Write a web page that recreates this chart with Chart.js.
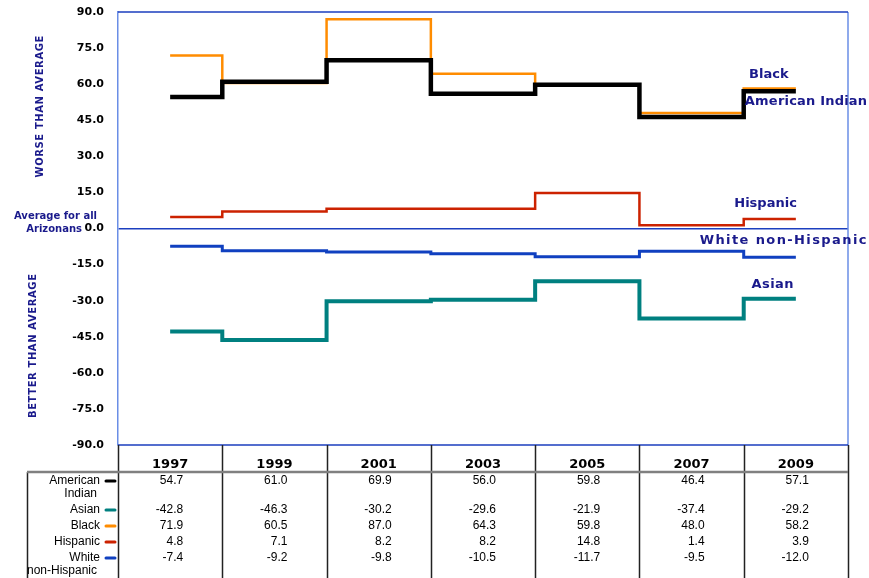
<!DOCTYPE html>
<html>
<head>
<meta charset="utf-8">
<script src="https://cdn.jsdelivr.net/npm/chart.js@4.4.1/dist/chart.umd.min.js"></script>
<style>
  body { margin: 0; background: #fff; }
  canvas { display: block; }
</style>
</head>
<body>
<canvas id="stepChart" width="869" height="578"></canvas>
<script>
// Data
var years = ['1997', '1999', '2001', '2003', '2005', '2007', '2009'];
var americanIndian = [54.7, 61.0, 69.9, 56.0, 59.8, 46.4, 57.1];
var asian = [-42.8, -46.3, -30.2, -29.6, -21.9, -37.4, -29.2];
var black = [71.9, 60.5, 87.0, 64.3, 59.8, 48.0, 58.2];
var hispanic = [4.8, 7.1, 8.2, 8.2, 14.8, 1.4, 3.9];
var whiteNonHispanic = [-7.4, -9.2, -9.8, -10.5, -11.7, -9.5, -12.0];
var yTicks = [90, 75, 60, 45, 30, 15, 0, -15, -30, -45, -60, -75, -90];

var navy = '#1a1a8c';

// one entry per row of the table (same order as the picture)
var rows = [
    { name: ['American', 'Indian'], values: americanIndian, color: '#000000', width: 4.5 },
    { name: ['Asian'], values: asian, color: '#008080', width: 4 },
    { name: ['Black'], values: black, color: '#ff8c00', width: 2.5 },
    { name: ['Hispanic'], values: hispanic, color: '#cc2200', width: 2.5 },
    { name: ['White', 'non-Hispanic'], values: whiteNonHispanic, color: '#1040c0', width: 3 }
];

// labels on the right end of each line
var endLabels = [
    { text: 'Black', values: black, dx: -27, dy: -14, align: 'center', sp: 0 },
    { text: 'American Indian', values: americanIndian, dx: -51, dy: 10, align: 'left', sp: 0.2 },
    { text: 'Hispanic', values: hispanic, dx: 1, dy: -15, align: 'right', sp: 0 },
    { text: 'White non-Hispanic', values: whiteNonHispanic, dx: 72, dy: -17, align: 'right', sp: 1.4 },
    { text: 'Asian', values: asian, dx: -2, dy: -14, align: 'right', sp: 0.4 }
];

var datasets = rows.map(function(r) {
    return {
        label: r.name.join(' '),
        data: r.values,
        borderColor: r.color,
        borderWidth: r.width,
        stepped: 'middle',
        pointRadius: 0,
        fill: false
    };
});

var extras = {
    id: 'extras',
    afterDatasetsDraw: function(chart) {
        var ctx = chart.ctx;
        var area = chart.chartArea;
        var x = chart.scales.x, y = chart.scales.y;

        // frame of the plot
        ctx.save();
        ctx.strokeStyle = '#6a8ee6';
        ctx.lineWidth = 1.5;
        ctx.beginPath();
        ctx.moveTo(area.right, area.top);
        ctx.lineTo(area.right, area.bottom);
        ctx.stroke();
        ctx.strokeStyle = '#1c3fbf';
        ctx.lineWidth = 1.5;
        ctx.beginPath();
        ctx.moveTo(area.left, area.top);
        ctx.lineTo(area.right, area.top);
        ctx.moveTo(area.left, area.bottom);
        ctx.lineTo(area.right, area.bottom);
        ctx.stroke();

        // labels at the end of the lines
        ctx.font = 'bold 13px "DejaVu Sans"';
        ctx.fillStyle = navy;
        ctx.textBaseline = 'middle';
        var lastX = x.getPixelForValue(years.length - 1);
        endLabels.forEach(function(l) {
            ctx.textAlign = l.align;
            ctx.letterSpacing = l.sp + 'px';
            ctx.fillText(l.text, lastX + l.dx, y.getPixelForValue(l.values[l.values.length - 1]) + l.dy);
        });

        // side titles
        ctx.font = 'bold 10px "DejaVu Sans"';
        ctx.letterSpacing = '0.6px';
        ctx.textAlign = 'center';
        ctx.save();
        ctx.translate(40, (y.getPixelForValue(90) + y.getPixelForValue(0)) / 2 - 14);
        ctx.rotate(-Math.PI / 2);
        ctx.fillText('WORSE THAN AVERAGE', 0, 0);
        ctx.restore();
        ctx.save();
        ctx.translate(33, (y.getPixelForValue(0) + y.getPixelForValue(-90)) / 2 + 9);
        ctx.rotate(-Math.PI / 2);
        ctx.fillText('BETTER THAN AVERAGE', 0, 0);
        ctx.restore();
        ctx.letterSpacing = '0px';
        ctx.textAlign = 'right';
        var zeroY = y.getPixelForValue(0);
        ctx.fillText('Average for all', 97, zeroY - 12);
        ctx.fillText('Arizonans', 82, zeroY + 1);
        ctx.restore();
    },
    afterDraw: function(chart) {
        var ctx = chart.ctx;
        var area = chart.chartArea;
        var x = chart.scales.x;
        var bottom = chart.height;
        var headerLine = area.bottom + 27;
        var step = x.getPixelForValue(1) - x.getPixelForValue(0);

        ctx.save();
        // column lines
        ctx.strokeStyle = '#222';
        ctx.lineWidth = 1.5;
        ctx.beginPath();
        for (var i = 0; i <= years.length; i++) {
            var bx = Math.round(x.getPixelForValue(i) - step / 2) + 0.5;
            ctx.moveTo(bx, area.bottom);
            ctx.lineTo(bx, bottom);
        }
        ctx.moveTo(27.5, headerLine);
        ctx.lineTo(27.5, bottom);
        ctx.stroke();
        ctx.strokeStyle = '#808080';
        ctx.lineWidth = 2.5;
        ctx.beginPath();
        ctx.moveTo(27, headerLine);
        ctx.lineTo(area.right, headerLine);
        ctx.stroke();

        // header with the years
        ctx.fillStyle = '#000';
        ctx.font = 'bold 13px "DejaVu Sans"';
        ctx.textAlign = 'center';
        ctx.textBaseline = 'middle';
        years.forEach(function(yr, i) {
            ctx.fillText(yr, x.getPixelForValue(i), area.bottom + 20);
        });

        // rows
        ctx.font = '12px "Liberation Sans"';
        var rowY = headerLine + 9;
        rows.forEach(function(r) {
            ctx.textAlign = 'right';
            ctx.fillStyle = '#000';
            ctx.fillText(r.name[0], 100, rowY);
            if (r.name[1]) ctx.fillText(r.name[1], 97, rowY + 13);
            r.values.forEach(function(v, i) {
                ctx.fillText(v.toFixed(1), x.getPixelForValue(i) + 13, rowY);
            });
            ctx.strokeStyle = r.color;
            ctx.lineWidth = 3;
            ctx.lineCap = 'round';
            ctx.beginPath();
            ctx.moveTo(106, rowY);
            ctx.lineTo(115, rowY);
            ctx.stroke();
            rowY += r.name[1] ? 29 : 16;
        });
        ctx.restore();
    }
};

var ctx = document.getElementById('stepChart').getContext('2d');
var stepChart = new Chart(ctx, {
    type: 'line',
    data: { labels: years, datasets: datasets },
    options: {
        responsive: false,
        animation: false,
        layout: { padding: { top: 12, right: 21, bottom: 133, left: 0 } },
        plugins: { legend: { display: false }, tooltip: { enabled: false } },
        scales: {
            x: {
                type: 'category',
                offset: true,
                display: false
            },
            y: {
                min: -90,
                max: 90,
                afterFit: function(scale) {
                    scale.width = 118;
                    scale.paddingTop = 0;
                    scale.paddingBottom = 0;
                },
                afterBuildTicks: function(scale) {
                    scale.ticks = yTicks.map(function(v) { return { value: v }; });
                },
                ticks: {
                    padding: 14,
                    color: '#000',
                    font: { family: 'DejaVu Sans', size: 11, weight: 'bold' },
                    callback: function(v) { return Number(v).toFixed(1); }
                },
                grid: {
                    drawTicks: false,
                    lineWidth: 1.5,
                    color: function(c) { return c.tick && c.tick.value === 0 ? '#1c3fbf' : 'rgba(0,0,0,0)'; }
                },
                border: { color: '#6a8ee6', width: 1.5 }
            }
        }
    },
    plugins: [extras]
});
</script>
</body>
</html>
